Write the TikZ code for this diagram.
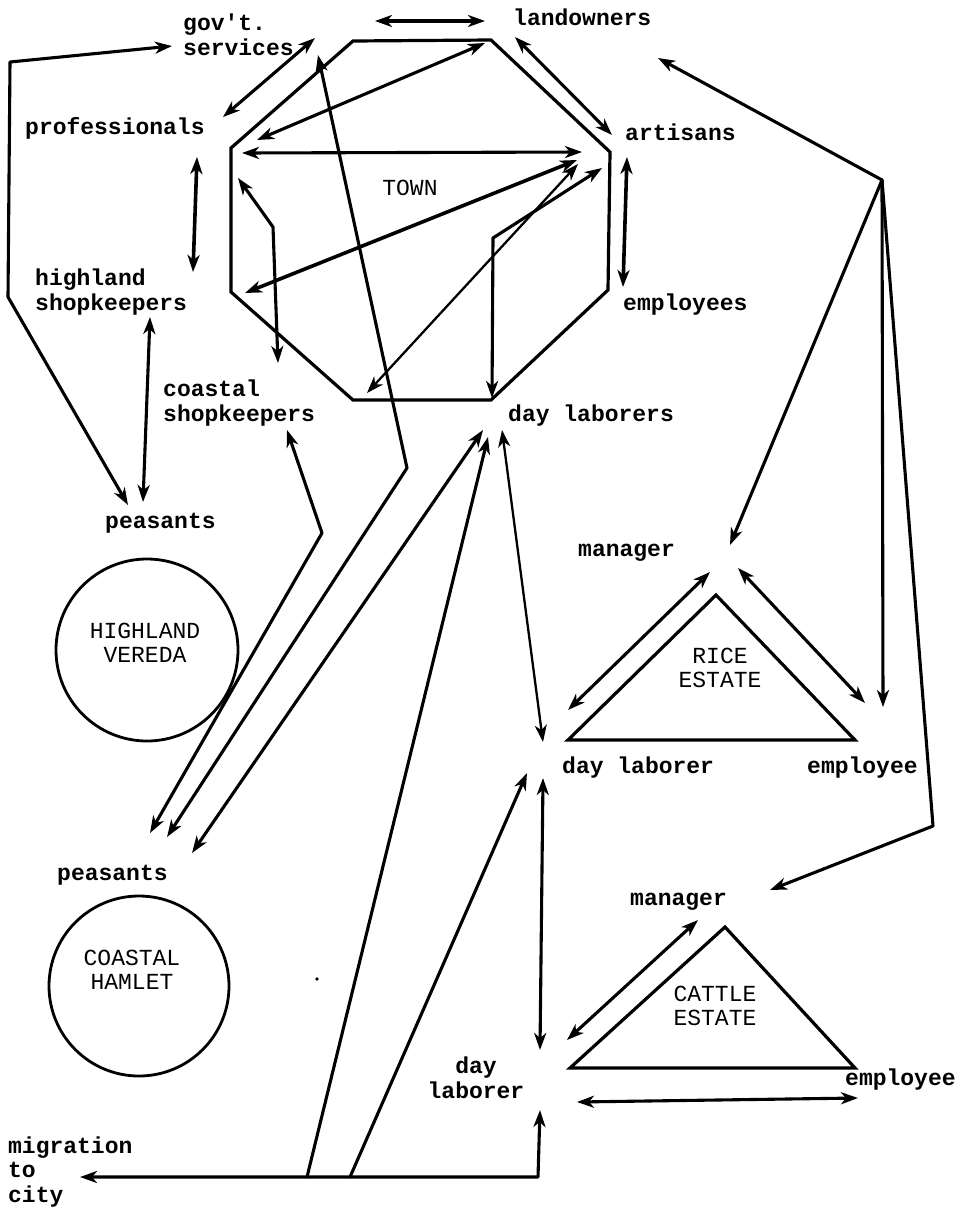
\documentclass[tikz,border=0pt]{standalone}
\usepackage{fontspec}
\newfontfamily\tw{Liberation Mono}
\usetikzlibrary{arrows.meta}
\begin{document}
\begin{tikzpicture}[x=1pt,y=-1pt,
  >={Stealth[length=17pt,width=12pt,inset=5pt]},
  lab/.style={font=\tw\bfseries\fontsize{23}{24.5}\selectfont, inner sep=0pt, anchor=west, align=left},
  capt/.style={font=\tw\fontsize{23}{24}\selectfont, inner sep=0pt, align=center},
  ln/.style={line width=3.1pt, line join=round, line cap=round},
  thin ln/.style={line width=2.3pt, line join=round, line cap=round},
  thick ln/.style={line width=3.6pt, line join=round, line cap=round},
  shp/.style={line width=3.2pt, line join=miter}]
\useasboundingbox (0,0) rectangle (968,1208);
\fill[white] (0,0) rectangle (968,1208);

% ---------- shapes ----------
\draw[shp] (353,41) -- (491,40) -- (610,152) -- (608,290) -- (491,400) -- (353,400) -- (231,292) -- (231,148) -- cycle;
\draw[shp] (716,595) -- (855,740) -- (568,740) -- cycle;
\draw[shp] (725,927) -- (855,1068) -- (570,1068) -- cycle;
\draw[line width=2.8pt] (147,650) circle[radius=91];
\draw[line width=2.8pt] (139,986) circle[radius=90];
\fill (317,979) circle[radius=1.8];

% ---------- labels ----------
\node[lab] (gov) at (183,35) {gov't.\\services};
\node[lab] (land) at (513,17) {landowners};
\node[lab] (prof) at (25,128) {professionals};
\node[lab] (art) at (625,132) {artisans};
\node[capt] (town) at (410,188) {TOWN};
\node[lab] (hshop) at (35,292) {highland\\shopkeepers};
\node[lab] (empl) at (623,305) {employees};
\node[lab] (cshop) at (163,403) {coastal\\shopkeepers};
\node[lab] (dls) at (508,416) {day laborers};
\node[lab] (hpeas) at (105,523) {peasants};
\node[capt] (hv) at (145,643) {HIGHLAND\\VEREDA};
\node[lab] (rman) at (578,553) {manager};
\node[capt] (rice) at (720,668) {RICE\\ESTATE};
\node[lab] (rdl) at (562,768) {day laborer};
\node[lab] (remp) at (807,768) {employee};
\node[lab] (cpeas) at (57,875) {peasants};
\node[capt] (ch) at (132,970) {COASTAL\\HAMLET};
\node[lab] (cman) at (630,902) {manager};
\node[capt] (cattle) at (715,1006) {CATTLE\\ESTATE};
\node[lab, align=center, anchor=center] (cdl) at (476,1078) {day\\laborer};
\node[lab] (cemp) at (845,1080) {employee};
\node[lab] (mig) at (8,1172) {migration\\to\\city};

% ---------- connector end points ----------
\coordinate (g1) at (375,21);   \coordinate (l1) at (485,21);
\coordinate (g2) at (172,46);   \coordinate (p2a) at (10,62);
\coordinate (p2b) at (8,297);   \coordinate (hp2) at (128,505);
\coordinate (g3) at (315,38);   \coordinate (pr3) at (223,117);
\coordinate (g4) at (318,55);   \coordinate (b4) at (407,468);
\coordinate (cp4) at (167,837);
\coordinate (pr5) at (257,140); \coordinate (l5) at (485,43);
\coordinate (pr6) at (242,153); \coordinate (a6) at (582,152);
\coordinate (hs7) at (245,293); \coordinate (a7) at (577,160);
\coordinate (cs8) at (367,393); \coordinate (a8) at (578,164);
\coordinate (dl9) at (492,398); \coordinate (b9) at (493,238);
\coordinate (a9) at (602,168);
\coordinate (pr10) at (238,178); \coordinate (b10) at (273,227);
\coordinate (cs10) at (278,363);
\coordinate (pr11) at (197,157); \coordinate (hs11) at (193,272);
\coordinate (hs12) at (150,317); \coordinate (hp12) at (143,502);
\coordinate (l13) at (515,37);  \coordinate (a13) at (612,135);
\coordinate (a14) at (627,157); \coordinate (e14) at (623,287);
\coordinate (cs15) at (287,430); \coordinate (b15) at (322,533);
\coordinate (cp15) at (150,833);
\coordinate (dl16) at (483,430); \coordinate (cp16) at (192,853);
\coordinate (hub) at (882,180);
\coordinate (l17) at (658,58);
\coordinate (rm18) at (730,545);
\coordinate (re19) at (883,707);
\coordinate (b20) at (933,826); \coordinate (cm20) at (770,890);
\coordinate (dl21) at (502,430); \coordinate (rd21) at (543,742);
\coordinate (rm22) at (710,572); \coordinate (rd22) at (568,710);
\coordinate (rm23) at (738,568); \coordinate (re23) at (865,703);
\coordinate (rd24) at (543,778); \coordinate (cd24) at (540,1050);
\coordinate (cm25) at (698,920); \coordinate (cd25) at (567,1040);
\coordinate (cd26) at (577,1102); \coordinate (ce26) at (858,1098);
\coordinate (mig27) at (80,1177); \coordinate (b27) at (538,1177);
\coordinate (cd27) at (540,1110);
\coordinate (j28) at (307,1177); \coordinate (dl28) at (488,437);
\coordinate (j29) at (350,1177); \coordinate (rd29) at (527,773);

% ---------- connectors ----------
\draw[ln,<->] (g1) -- (l1);
\draw[ln,<->] (g2) -- (p2a) -- (p2b) -- (hp2);
\draw[ln,<->] (g3) -- (pr3);
\draw[ln,<->] (g4) -- (b4) -- (cp4);
\draw[ln,<->] (pr5) -- (l5);
\draw[ln,<->] (pr6) -- (a6);
\draw[thick ln,<->] (hs7) -- (a7);
\draw[thin ln,<->] (cs8) -- (a8);
\draw[ln,<->] (dl9) -- (b9) -- (a9);
\draw[ln,<->] (pr10) -- (b10) -- (cs10);
\draw[thick ln,<->] (pr11) -- (hs11);
\draw[ln,<->] (hs12) -- (hp12);
\draw[ln,<->] (l13) -- (a13);
\draw[thick ln,<->] (a14) -- (e14);
\draw[ln,<->] (cs15) -- (b15) -- (cp15);
\draw[ln,<->] (dl16) -- (cp16);
\draw[ln,->] (hub) -- (l17);
\draw[ln,->] (hub) -- (rm18);
\draw[ln,->] (hub) -- (re19);
\draw[ln,->] (hub) -- (b20) -- (cm20);
\draw[thin ln,<->] (dl21) -- (rd21);
\draw[ln,<->] (rm22) -- (rd22);
\draw[ln,<->] (rm23) -- (re23);
\draw[ln,<->] (rd24) -- (cd24);
\draw[ln,<->] (cm25) -- (cd25);
\draw[ln,<->] (cd26) -- (ce26);
\draw[ln,<->] (mig27) -- (b27) -- (cd27);
\draw[ln,->] (j28) -- (dl28);
\draw[ln,->] (j29) -- (rd29);
\end{tikzpicture}
\end{document}
